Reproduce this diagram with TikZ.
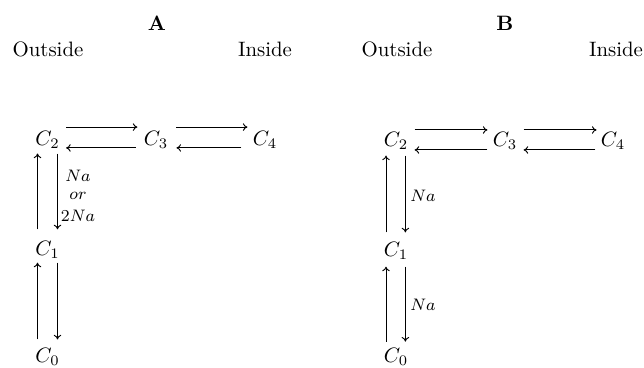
\documentclass[tikz,border=0pt]{standalone}
\usetikzlibrary{arrows.meta}
\begin{document}
\begin{tikzpicture}[x=0.48pt,y=-0.48pt,
  st/.style={inner sep=0pt, anchor=base},
  hd/.style={inner sep=0pt, anchor=base},
  lab/.style={font=\footnotesize, inner sep=0pt, align=center},
  arr/.style={-{To[length=2.2pt,width=3.6pt]}, line width=0.45pt}]
\useasboundingbox (0,0) rectangle (644,367);
% headers
\node[hd] (hA) at (157,30) {\textbf{A}};
\node[hd] (hB) at (505,30) {\textbf{B}};
\node[hd] (oA) at (48,56) {Outside};
\node[hd] (iA) at (265,56) {Inside};
\node[hd] (oB) at (397,56) {Outside};
\node[hd] (iB) at (616,56) {Inside};
% panel A nodes
\node[st] (c2A) at (47.5,145) {$C_2$};
\node[st] (c3A) at (156,145) {$C_3$};
\node[st] (c4A) at (265,145) {$C_4$};
\node[st] (c1A) at (47.5,255) {$C_1$};
\node[st] (c0A) at (47.5,362) {$C_0$};
% panel B nodes
\node[st] (c2B) at (396,146) {$C_2$};
\node[st] (c3B) at (505,146) {$C_3$};
\node[st] (c4B) at (613,146) {$C_4$};
\node[st] (c1B) at (396,256) {$C_1$};
\node[st] (c0B) at (396,362.5) {$C_0$};
% panel A horizontal arrows
\draw[arr, shorten <=2.9pt, shorten >=2.9pt] ([yshift=8.6pt]c2A.base east) -- ([yshift=8.6pt]c3A.base west);
\draw[arr, shorten <=3.8pt, shorten >=2.9pt] ([yshift=-1.4pt]c3A.base west) -- ([yshift=-1.4pt]c2A.base east);
\draw[arr, shorten <=3.8pt, shorten >=2.4pt] ([yshift=8.6pt]c3A.base east) -- ([yshift=8.6pt]c4A.base west);
\draw[arr, shorten <=5.3pt, shorten >=3.8pt] ([yshift=-1.4pt]c4A.base west) -- ([yshift=-1.4pt]c3A.base east);
% panel A vertical arrows
\draw[arr, shorten <=5.3pt, shorten >=2.4pt] ([xshift=-4.8pt]c1A.north) -- ([xshift=-4.8pt]c2A.south);
\draw[arr, shorten <=2.4pt, shorten >=5.3pt] ([xshift=4.8pt]c2A.south) -- ([xshift=4.8pt]c1A.north);
\draw[arr, shorten <=3.8pt, shorten >=2pt] ([xshift=-4.8pt]c0A.north) -- ([xshift=-4.8pt]c1A.south);
\draw[arr, shorten <=2pt, shorten >=3.8pt] ([xshift=4.8pt]c1A.south) -- ([xshift=4.8pt]c0A.north);
\node[lab] (lA) at (78,196) {$Na$\\[-1pt]$or$\\[1pt]$2Na$};
% panel B horizontal arrows
\draw[arr, shorten <=2.9pt, shorten >=2.4pt] ([yshift=7.7pt]c2B.base east) -- ([yshift=7.7pt]c3B.base west);
\draw[arr, shorten <=2.4pt, shorten >=2.9pt] ([yshift=-1.9pt]c3B.base west) -- ([yshift=-1.9pt]c2B.base east);
\draw[arr, shorten <=2.9pt, shorten >=1.9pt] ([yshift=7.7pt]c3B.base east) -- ([yshift=7.7pt]c4B.base west);
\draw[arr, shorten <=2.4pt, shorten >=2.9pt] ([yshift=-1.9pt]c4B.base west) -- ([yshift=-1.9pt]c3B.base east);
% panel B vertical arrows
\draw[arr, shorten <=4.3pt, shorten >=2.9pt] ([xshift=-4.8pt]c1B.north) -- ([xshift=-4.8pt]c2B.south);
\draw[arr, shorten <=2.9pt, shorten >=4.3pt] ([xshift=4.5pt]c2B.south) -- ([xshift=4.5pt]c1B.north);
\draw[arr, shorten <=3pt, shorten >=3.4pt] ([xshift=-4.8pt]c0B.north) -- ([xshift=-4.8pt]c1B.south);
\draw[arr, shorten <=3.4pt, shorten >=3pt] ([xshift=4.5pt]c1B.south) -- ([xshift=4.5pt]c0B.north);
\node[lab] (lB1) at (423,196) {$Na$};
\node[lab] (lB2) at (423,305) {$Na$};
\end{tikzpicture}
\end{document}
